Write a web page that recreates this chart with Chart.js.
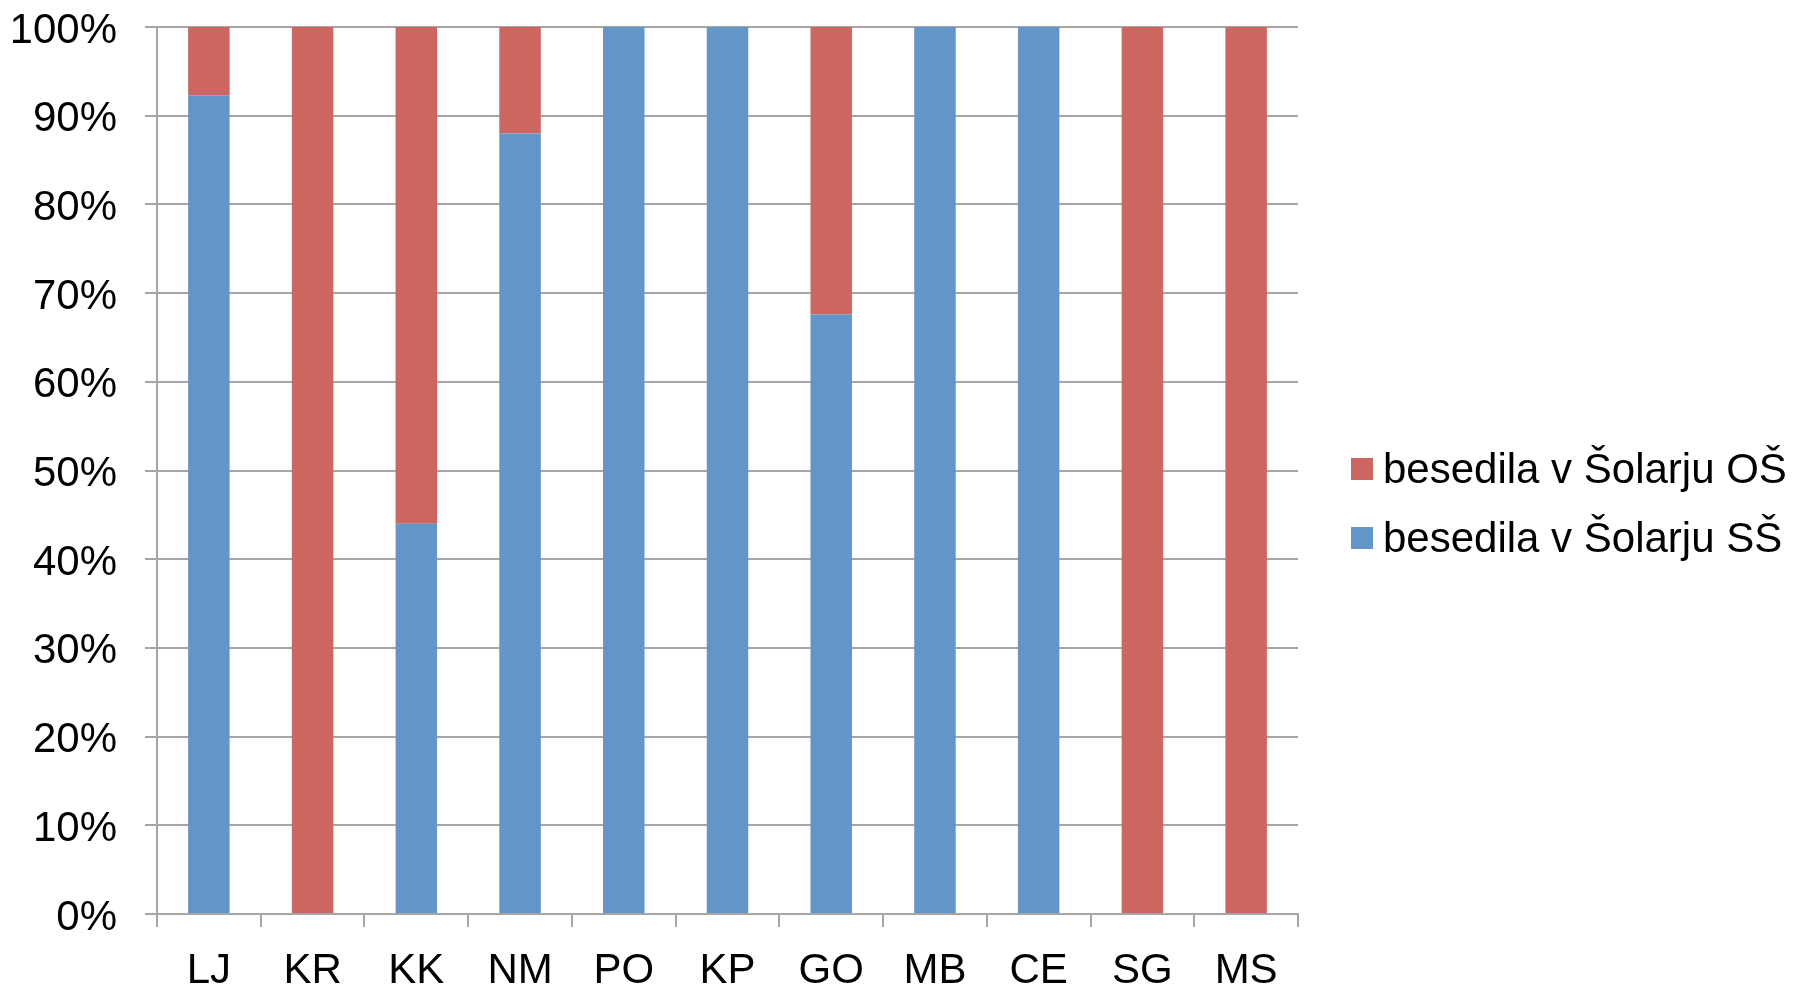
<!DOCTYPE html>
<html>
<head>
<meta charset="utf-8">
<script src="https://cdn.jsdelivr.net/npm/chart.js@4"></script>
<style>
  html, body { margin: 0; padding: 0; background: #fff; }
  #wrap { position: relative; width: 1798px; height: 991px; }
  #chart { display: block; }
  #legend {
    position: absolute; left: 1351px; top: 434px;
    font-family: "Liberation Sans", Arial, sans-serif; font-size: 42px; color: #000;
  }
  #legend .row { display: flex; align-items: center; height: 69px; white-space: nowrap; }
  #legend .box { width: 22px; height: 22px; margin-right: 10px; flex: none; }
</style>
</head>
<body>
<div id="wrap">
  <canvas id="chart" width="1798" height="991"></canvas>
  <div id="legend"></div>
</div>
<script>
// regions on the x axis
const categories = ['LJ', 'KR', 'KK', 'NM', 'PO', 'KP', 'GO', 'MB', 'CE', 'SG', 'MS'];

// share of texts (percent) – secondary school Šolar vs primary school Šolar
const ssShare = [92.3, 0, 44, 88, 100, 100, 67.6, 100, 100, 0, 0];
const osShare = [7.7, 100, 56, 12, 0, 0, 32.4, 0, 0, 100, 100];

const seriesNames = ['besedila v Šolarju SŠ', 'besedila v Šolarju OŠ'];
const yTicks = [0, 10, 20, 30, 40, 50, 60, 70, 80, 90, 100];

const FONT = '"Liberation Sans", Arial, sans-serif';
const GRID = '#a6a6a6';

Chart.defaults.font.family = FONT;
Chart.defaults.color = '#000';

const chart = new Chart(document.getElementById('chart'), {
  type: 'bar',
  data: {
    labels: categories,
    datasets: [
      {
        label: seriesNames[0],
        data: ssShare,
        backgroundColor: '#6296c9',
        barPercentage: 0.4,
        categoryPercentage: 1
      },
      {
        label: seriesNames[1],
        data: osShare,
        backgroundColor: '#cd6660',
        barPercentage: 0.4,
        categoryPercentage: 1
      }
    ]
  },
  options: {
    responsive: false,
    animation: false,
    devicePixelRatio: 1,
    layout: { padding: { top: 27, left: 13, bottom: 0, right: 500 } },
    plugins: {
      tooltip: { enabled: false },
      legend: { display: false }
    },
    scales: {
      x: {
        stacked: true,
        afterFit: axis => {
          axis.height = 77;
          axis.paddingLeft = 0;
          axis.paddingRight = 0;
        },
        grid: {
          drawOnChartArea: false,
          drawTicks: true,
          tickLength: 13,
          color: GRID,
          lineWidth: 2
        },
        border: { color: GRID, width: 2 },
        ticks: {
          font: { size: 42 },
          color: '#000',
          padding: 19,
          maxRotation: 0
        }
      },
      y: {
        stacked: true,
        min: 0,
        max: 100,
        afterBuildTicks: axis => {
          axis.ticks = yTicks.map(v => ({ value: v }));
        },
        afterFit: axis => {
          axis.width = 144;
          axis.paddingTop = 0;
          axis.paddingBottom = 0;
        },
        grid: {
          color: GRID,
          lineWidth: 2,
          tickLength: 12
        },
        border: { color: GRID, width: 2 },
        ticks: {
          font: { size: 42 },
          color: '#000',
          padding: 28,
          labelOffset: 4,
          callback: v => v + '%'
        }
      }
    }
  }
});

// legend: primary-school series listed first, as in the original
const legendEl = document.getElementById('legend');
chart.data.datasets.slice().reverse().forEach(ds => {
  const row = document.createElement('div');
  row.className = 'row';
  const box = document.createElement('span');
  box.className = 'box';
  box.style.background = ds.backgroundColor;
  const txt = document.createElement('span');
  txt.textContent = ds.label;
  row.appendChild(box);
  row.appendChild(txt);
  legendEl.appendChild(row);
});
</script>
</body>
</html>
